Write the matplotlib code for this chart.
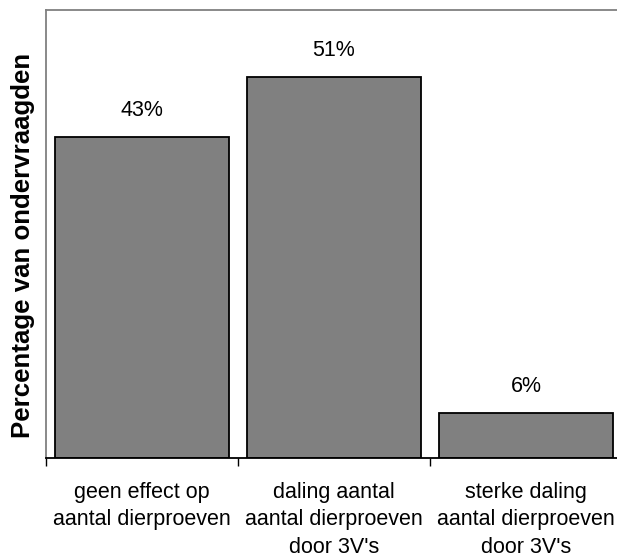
import matplotlib.pyplot as plt

categories = ["geen effect op\naantal dierproeven",
              "daling aantal\naantal dierproeven\ndoor 3V's",
              "sterke daling\naantal dierproeven\ndoor 3V's"]
values = [43, 51, 6]
labels = ["43%", "51%", "6%"]

plt.rcParams['font.family'] = ['Liberation Sans', 'DejaVu Sans']

fig = plt.figure(figsize=(6.17, 5.59), dpi=100)
# axes runs a bit past the right edge of the figure, like the original
ax = fig.add_axes([46 / 617, 1 - 458 / 559, 576 / 617, 448 / 559])

x = list(range(len(values)))
ax.bar(x, values, width=0.91, color='#808080', edgecolor='black', linewidth=1.3)

for xi, v, lab in zip(x, values, labels):
    ax.text(xi, v + 2.2, lab, ha='center', va='bottom', fontsize=15.5)

ax.set_xlim(-0.5, 2.5)
ax.set_ylim(0, 60)
ax.set_yticks([])
ax.set_xticks(x)
ax.set_xticklabels(categories, fontsize=15.5, linespacing=1.43)
ax.tick_params(axis='x', which='major', length=0, pad=17)
ax.set_xticks([-0.5, 0.5, 1.5, 2.5], minor=True)
ax.tick_params(axis='x', which='minor', length=6, width=1, direction='out', color='black')

ax.spines['left'].set_color('#808080')
ax.spines['top'].set_color('#808080')
ax.spines['right'].set_visible(False)
ax.spines['bottom'].set_color('black')
for s in ax.spines.values():
    s.set_linewidth(1.3)

ax.set_ylabel("Percentage van ondervraagden", fontsize=18.6, fontweight='bold')
ax.yaxis.set_label_coords(-11 / 576, 0.475)

fig.savefig("out.png", dpi=100)
